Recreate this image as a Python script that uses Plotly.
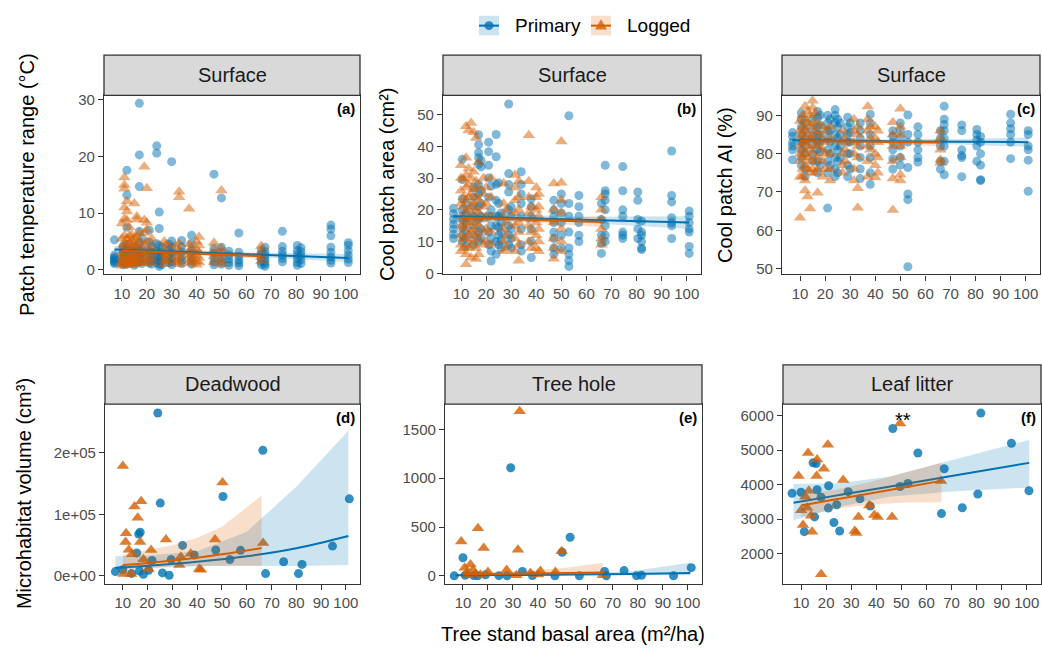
import plotly.graph_objects as go

W, H = 1042, 652
BLUE = "#0072B2"
ORANGE = "#D55E00"
FONT = "Liberation Sans, Arial, sans-serif"

# ---------------- data: top row (surface patches) ----------------
primary_sites_top = [7, 10.5, 12, 15, 17, 18, 21, 22, 24, 25, 26, 29, 30, 34, 38, 47, 50, 53, 57, 66, 67.5, 74.5, 80.5, 82, 94, 101]
logged_sites_top = [10, 11, 12, 13, 14, 15, 16, 17, 19, 20, 22, 27, 28, 31.5, 33, 37, 38, 40, 41, 47, 50, 66]

a_primary = [
    [5.3, 2.6, 2.2, 1.8, 1.5, 1.3, 2.0, 1.1], [3.0, 2.4, 1.9, 1.5, 1.2, 0.9, 4.2],
    [17.6, 13.2, 7.5, 4.5, 3.2, 2.5, 1.8, 1.4, 1.0], [4.0, 3.1, 2.3, 1.7, 1.3, 0.8],
    [29.4, 20.3, 14.7, 6.8, 4.8, 3.5, 2.6, 1.9, 1.4], [5.5, 3.8, 2.9, 2.0, 1.5, 1.1],
    [7.0, 4.9, 3.3, 2.5, 1.7, 1.2], [4.2, 3.1, 2.2, 1.6, 1.0],
    [21.9, 20.6, 4.6, 3.3, 2.4, 1.8, 1.3], [10.2, 7.3, 4.3, 3.0, 2.1, 1.5, 1.0, 0.6],
    [4.0, 3.0, 2.2, 1.6, 0.9], [4.5, 3.6, 2.7, 1.9, 1.3],
    [19.1, 5.1, 4.0, 3.0, 2.1, 1.4, 0.9], [5.2, 4.1, 3.2, 2.3, 1.7, 1.1],
    [6.1, 4.6, 3.3, 2.4, 1.6, 1.0], [16.9, 3.8, 2.9, 2.1, 1.4, 0.9],
    [12.7, 4.0, 3.1, 2.2, 1.5, 1.0], [3.3, 2.6, 1.9, 1.3, 0.8],
    [6.5, 3.1, 2.4, 1.7, 1.2, 0.7], [3.5, 2.8, 2.0, 1.4, 0.9],
    [4.0, 3.2, 2.6, 2.0, 1.5, 1.0, 0.6], [6.8, 4.1, 3.3, 2.6, 2.0, 1.4],
    [4.3, 3.4, 2.7, 2.0, 1.3, 0.8], [3.9, 3.2, 2.5, 1.8, 1.1],
    [7.9, 7.2, 6.0, 4.0, 3.1, 2.3, 1.7, 1.2], [4.8, 4.3, 3.4, 2.6, 1.9, 1.3],
]
a_logged = [
    [8.2, 5.5, 4.0, 3.0, 2.2, 1.5, 1.0, 0.7], [16.3, 15.0, 14.3, 11.0, 9.0, 6.0, 4.5, 3.5, 2.5, 1.8, 1.2],
    [12.1, 10.3, 8.8, 5.5, 4.2, 3.0, 2.1, 1.4, 0.9], [7.5, 6.0, 4.8, 3.6, 2.6, 1.8, 1.1],
    [6.2, 5.2, 4.4, 3.5, 2.8, 2.0, 1.4, 0.8], [11.7, 5.6, 4.6, 3.5, 2.5, 1.6, 1.0],
    [9.4, 8.9, 5.8, 4.3, 3.1, 2.2, 1.3], [6.5, 5.0, 3.8, 2.8, 1.9, 1.2],
    [18.2, 8.8, 6.5, 4.4, 3.0, 2.0, 1.2], [14.4, 8.3, 7.1, 5.0, 3.4, 2.3, 1.4],
    [5.5, 4.0, 2.9, 2.0, 1.2], [5.0, 3.7, 2.6, 1.7, 1.0],
    [4.5, 3.2, 2.3, 1.5], [4.2, 3.0, 2.1, 1.3],
    [13.8, 12.8, 4.6, 3.4, 2.5, 1.7, 1.0], [10.8, 4.5, 3.3, 2.3, 1.4],
    [3.8, 2.7, 1.9, 1.1], [5.0, 3.6, 2.5, 1.5, 0.9],
    [5.8, 4.3, 3.1, 2.1, 1.3], [4.8, 3.5, 2.4, 1.4],
    [14.0, 3.8, 2.7, 1.7, 1.0], [4.2, 3.1, 2.2, 1.5],
]
b_primary = [
    [20.5, 18.8, 17.0, 15.5, 14.0, 12.3, 11.0], [35.9, 29.5, 23.5, 20.0, 17.0, 14.5, 12.0, 10.0],
    [22.0, 19.0, 16.0, 13.5, 11.0, 8.5], [27.0, 24.0, 21.0, 18.0, 15.0, 12.0, 9.0],
    [43.6, 40.5, 38.0, 36.4, 34.3, 28.0, 25.0, 21.0, 17.0, 13.0, 10.0], [35.5, 33.5, 26.0, 22.0, 18.0, 14.0, 11.0],
    [41.3, 38.3, 34.0, 30.0, 24.0, 18.0, 13.0, 9.0], [27.5, 20.0, 15.0, 11.0, 7.0, 3.9],
    [43.7, 36.7, 28.0, 23.0, 18.0, 15.0, 10.0, 6.0], [28.5, 22.0, 18.0, 14.5, 12.0, 9.0],
    [19.0, 16.0, 13.0, 10.5, 8.0], [53.3, 31.4, 28.0, 25.6, 20.0, 15.0, 12.0, 9.0],
    [21.0, 18.0, 14.0, 11.0, 8.0], [32.0, 28.0, 25.0, 22.0, 18.0, 14.0, 9.0, 7.0],
    [23.5, 21.0, 18.0, 14.0, 10.0, 5.0], [23.0, 20.0, 18.0, 16.0, 13.0, 11.0, 8.0, 6.0],
    [25.0, 22.0, 19.0, 16.0, 12.0, 8.0], [49.6, 22.0, 18.0, 13.0, 8.0, 6.0, 4.0, 2.2],
    [24.5, 21.0, 18.0, 16.0, 12.0, 10.0], [22.0, 17.0, 12.0, 9.5, 6.3],
    [34.0, 26.0, 25.0, 23.0, 20.0, 15.0, 12.0, 10.0], [33.6, 26.0, 20.0, 18.0, 13.0, 12.0, 11.0],
    [25.6, 23.0, 17.0, 14.0, 11.0], [16.5, 13.0, 12.0, 10.0, 8.0, 7.5],
    [38.5, 24.5, 22.5, 17.5, 16.0, 15.0, 11.0], [19.6, 18.0, 16.0, 14.0, 13.0, 8.5, 6.3],
]
b_logged = [
    [34.0, 30.0, 26.0, 22.0, 18.0, 15.0, 12.0, 9.0, 7.0], [29.5, 24.0, 21.0, 17.0, 14.0, 11.0, 8.0],
    [46.3, 36.4, 31.0, 27.0, 23.0, 19.0, 15.0, 11.0, 6.0, 2.9], [45.0, 33.0, 28.0, 24.0, 20.0, 16.0, 12.0, 8.0],
    [47.3, 30.0, 25.0, 21.0, 17.0, 13.0, 9.0, 5.0], [44.4, 32.0, 26.5, 22.0, 18.0, 14.0, 10.0],
    [42.6, 29.0, 24.0, 20.0, 16.0, 12.0, 8.0, 4.5], [35.0, 27.0, 23.0, 19.0, 15.0, 11.0, 6.0],
    [30.0, 25.0, 21.0, 17.0, 13.0, 9.0], [27.0, 22.0, 18.0, 14.0, 10.0],
    [30.0, 24.0, 18.0, 13.0, 9.0], [28.3, 22.0, 18.0, 14.0, 10.0, 7.0],
    [20.0, 16.0, 12.0, 8.0], [31.0, 27.0, 23.0, 19.0, 15.0, 11.0, 7.0],
    [29.0, 24.0, 20.0, 16.0, 13.0, 9.0, 4.0], [43.5, 29.0, 24.0, 19.0, 15.0, 10.0],
    [21.0, 17.0, 13.0, 8.0], [27.0, 24.0, 20.0, 16.0, 12.0, 8.0],
    [25.0, 21.0, 18.0, 14.0, 10.0, 7.0], [28.3, 20.0, 16.0, 11.0, 8.0, 4.6],
    [41.5, 28.5, 23.0, 19.0, 14.0, 10.0, 7.0], [24.0, 20.0, 17.0, 14.0, 11.0, 9.0],
]
c_primary = [
    [85.5, 84.5, 83.0, 82.0, 81.0, 78.4], [90.6, 89.0, 87.0, 85.0, 83.0, 81.0, 79.0, 77.0],
    [88.0, 86.0, 84.0, 82.0, 80.0, 76.0, 74.0], [89.0, 86.5, 84.5, 82.5, 80.0, 78.0],
    [91.0, 89.5, 87.0, 85.0, 83.0, 81.0, 78.0, 75.0], [90.0, 87.5, 85.0, 83.0, 80.5, 77.0],
    [90.0, 88.0, 86.0, 84.0, 81.0, 78.0, 75.0, 65.8], [89.0, 86.0, 83.0, 80.0, 77.0],
    [91.5, 90.0, 88.0, 85.0, 82.0, 79.0, 76.0, 74.0], [89.0, 87.0, 84.0, 81.0, 78.0, 75.0],
    [88.0, 85.0, 82.0, 79.0], [89.5, 87.0, 85.0, 83.0, 80.0, 77.0, 74.0],
    [88.0, 85.5, 83.0, 80.0, 76.0], [88.0, 86.0, 84.0, 82.0, 79.0, 76.0, 73.5],
    [90.3, 88.0, 85.0, 82.0, 79.0, 75.0, 72.0], [86.0, 84.5, 83.0, 81.0, 78.7, 76.0],
    [88.0, 86.0, 84.0, 82.0, 79.0, 77.0], [90.1, 85.0, 83.0, 76.4, 69.5, 68.0, 50.5],
    [87.0, 85.0, 83.0, 81.0, 79.0, 77.8], [86.0, 84.0, 82.0, 78.0, 76.0],
    [92.4, 89.0, 87.6, 86.0, 84.0, 82.0, 78.0, 74.5], [87.5, 86.0, 81.0, 79.5, 79.0, 74.0],
    [86.3, 85.0, 83.6, 82.0, 78.0], [84.5, 83.0, 80.0, 77.0, 73.2, 73.0],
    [90.3, 88.0, 86.5, 85.0, 83.0, 78.7], [86.0, 85.0, 82.0, 81.0, 78.3, 70.2],
]
c_logged = [
    [88.5, 86.0, 84.0, 82.0, 80.0, 78.0, 74.0, 63.3], [90.0, 87.0, 85.0, 83.0, 81.0, 79.0, 76.0, 74.0],
    [92.4, 89.0, 86.0, 83.0, 80.0, 77.0, 73.0, 70.4], [91.0, 88.0, 85.0, 82.0, 79.0, 76.0, 68.8],
    [90.0, 87.0, 84.0, 81.0, 78.0, 75.0, 65.7], [93.8, 92.0, 88.0, 84.0, 80.0, 76.0],
    [90.5, 86.0, 82.0, 78.0, 75.0], [88.0, 85.0, 82.0, 79.0, 76.0, 69.8],
    [87.0, 84.0, 81.0, 78.0, 74.0], [86.0, 83.0, 80.0, 76.0],
    [87.0, 84.0, 80.0, 76.0, 73.0], [86.0, 83.0, 80.0, 77.0, 75.0],
    [84.0, 81.0, 78.0], [89.0, 86.0, 83.0, 80.0, 76.0, 73.0],
    [87.0, 85.0, 82.0, 79.0, 71.0, 65.9], [92.3, 89.0, 86.0, 82.0, 78.0, 74.0],
    [87.0, 84.0, 81.0], [87.0, 84.0, 80.0, 77.0, 73.8],
    [86.0, 83.0, 79.0, 75.0], [88.2, 85.0, 82.0, 78.0, 73.5, 65.3],
    [91.7, 87.0, 85.0, 82.0, 79.0, 74.5, 73.0], [86.0, 84.0, 81.0, 78.4, 77.6],
]

# ---------------- data: bottom row (microhabitat volume) ----------------
d_primary_x = [7, 10, 13.5, 15.6, 16.4, 17, 16.7, 18.3, 20.4, 21.8, 24.1, 25.1, 26, 28.7, 29.5, 34.1, 38.8, 47.5, 50.4, 53.2, 57.5, 66.5, 67.6, 74.9, 80.9, 82.3, 94.6, 101.4]
d_primary_y = [7000, 10000, 4000, 37400, 68000, 71000, 8000, 2700, 9000, 25100, 265000, 118400, 4800, 1000, 26500, 49600, 34000, 42200, 129100, 26500, 41600, 204300, 3700, 23000, 3700, 18700, 48500, 125400]
d_logged_x = [10, 10.3, 11.3, 11.1, 12.4, 13.3, 13.7, 14.7, 16, 17.4, 17, 18.3, 20.4, 21.4, 27.4, 32.8, 33.4, 37.4, 40.8, 41.5, 47.2, 50.2, 66.6]
d_logged_y = [178700, 3000, 69400, 55000, 42700, 3000, 35000, 113100, 94600, 121500, 55000, 27000, 11000, 42100, 59000, 17800, 31100, 35800, 11000, 10000, 59000, 152000, 53400]

e_primary_x = [6.5, 10, 10.9, 14.3, 15.9, 19, 24.4, 27.7, 29.1, 33.8, 37.8, 46.8, 49.7, 52.9, 56.6, 66.7, 67.4, 74.5, 79.5, 81.5, 94.3, 101.4]
e_primary_y = [0, 185, 5, 3, 0, 10, 2, 0, 1107, 44, 3, 0, 242, 396, 0, 44, 0, 54, 2, 5, 0, 84]
e_logged_x = [9.3, 10.7, 11.5, 12, 13, 14, 15, 16, 17, 18.3, 20, 27.5, 31.4, 32, 32.7, 37, 40, 41, 47, 49.5, 66]
e_logged_y = [352, 84, 30, 5, 117, 60, 20, 487, 10, 285, 40, 60, 5, 268, 1685, 30, 15, 50, 40, 252, 5]

f_primary_x = [6.4, 10, 11.3, 14.8, 15.4, 16, 16.4, 18, 21, 20.9, 23.1, 24.2, 25.4, 28.8, 33.5, 37.6, 46.6, 49.5, 52.6, 56.6, 66, 67.1, 74.3, 80.5, 81.7, 93.9, 100.9]
f_primary_y = [3747, 3780, 2635, 4630, 3063, 4610, 3852, 3632, 3966, 3319, 2902, 3416, 2655, 3795, 3587, 3376, 5627, 3946, 4031, 4915, 3159, 4459, 3330, 3729, 6074, 5200, 3823]
f_logged_x = [9, 10, 10.8, 11.7, 12.4, 12.8, 13.1, 14, 14.4, 16.2, 16.4, 18, 19.1, 20.7, 26.8, 31.4, 32, 32.9, 37.2, 39.2, 40.6, 46.3, 49.5, 65.8]
f_logged_y = [4251, 3254, 2826, 3650, 3330, 4915, 3823, 3100, 2635, 4251, 4726, 1402, 4459, 5154, 4137, 2655, 2600, 3063, 3396, 3120, 3063, 3063, 5769, 4108]

# ---------------- fitted lines and confidence bands ----------------
a_fit_p_x = [7, 54, 101];  a_fit_p = [3.6, 2.85, 2.1];  a_lo_p = [3.0, 2.55, 1.4];  a_hi_p = [4.2, 3.15, 2.8]
a_fit_l_x = [10, 38, 66];  a_fit_l = [3.4, 2.9, 2.4];   a_lo_l = [2.9, 2.6, 1.9];  a_hi_l = [3.9, 3.2, 2.9]
b_fit_p_x = [7, 54, 101];  b_fit_p = [18.0, 17.0, 16.0]; b_lo_p = [16.5, 16.2, 14.0]; b_hi_p = [19.5, 17.8, 18.0]
b_fit_l_x = [10, 38, 66];  b_fit_l = [17.5, 16.9, 16.2]; b_lo_l = [16.5, 16.2, 14.5]; b_hi_l = [18.5, 17.6, 17.9]
c_fit_p_x = [7, 54, 101];  c_fit_p = [83.5, 83.2, 83.0]; c_lo_p = [82.7, 82.8, 81.8]; c_hi_p = [84.3, 83.6, 84.2]
c_fit_l_x = [10, 38, 66];  c_fit_l = [83.3, 83.1, 82.9]; c_lo_l = [82.7, 82.7, 81.9]; c_hi_l = [83.9, 83.5, 83.9]
d_fit_p_x = [7, 20, 40, 60, 80, 101]
d_fit_p = [13400, 16500, 23000, 32000, 45000, 65000]
d_lo_p = [10700, 12500, 15500, 16500, 16000, 17600]
d_hi_p = [32000, 33000, 40000, 72000, 145000, 236000]
d_fit_l_x = [10, 20, 30, 40, 50, 66]
d_fit_l = [17600, 21000, 25000, 29500, 35000, 45400]
d_lo_l = [10700, 13000, 15500, 16500, 16500, 16000]
d_hi_l = [34700, 42000, 50000, 62000, 80000, 130700]
e_fit_p_x = [7, 30, 54, 78, 101]; e_fit_p = [6, 9, 14, 20, 30]; e_lo_p = [0, 2, 6, 8, 7]; e_hi_p = [15, 18, 25, 50, 135]
e_fit_l_x = [10, 24, 38, 52, 66]; e_fit_l = [15, 19, 24, 29, 35]; e_lo_l = [5, 9, 10, 6, 2]; e_hi_l = [40, 40, 55, 85, 135]
f_fit_p_x = [7, 25, 45, 70, 101]; f_fit_p = [3473, 3695, 3941, 4249, 4630]
f_lo_p = [2969, 3350, 3650, 3800, 3917]; f_hi_p = [4014, 4040, 4230, 4700, 5296]
f_fit_l_x = [10, 24, 38, 52, 66]; f_fit_l = [3396, 3575, 3750, 3930, 4108]
f_lo_l = [3063, 3300, 3420, 3480, 3490]; f_hi_l = [3729, 3850, 4080, 4350, 4630]

x_ticks = [10, 20, 30, 40, 50, 60, 70, 80, 90, 100]
strip_labels = ["Surface", "Surface", "Surface", "Deadwood", "Tree hole", "Leaf litter"]
panel_tags = ["(a)", "(b)", "(c)", "(d)", "(e)", "(f)"]
y_titles = ["Patch temperature range (°C)", "Cool patch area (cm²)", "Cool patch AI (%)", "Microhabitat volume (cm³)"]
x_title = "Tree stand basal area (m²/ha)"
legend_names = ["Primary", "Logged"]


def flatten(sites, groups):
    xs, ys = [], []
    for s, g in zip(sites, groups):
        xs += [s] * len(g)
        ys += list(g)
    return xs, ys


# ---------------- layout geometry (pixels) ----------------
cols_top = [(104, 360), (443, 701), (782, 1040)]
cols_bot = [(105, 360), (445, 702), (783, 1041)]
row_top = (93, 275, 52)   # plot top, plot bottom, strip top
row_bot = (407, 590, 367)

y_ranges = [[-0.8, 30.8], [-0.3, 56], [48.5, 95.2], [-13300, 279500], [-84, 1759], [1117, 6333]]
y_tickvals = [[0, 10, 20, 30], [0, 10, 20, 30, 40, 50], [50, 60, 70, 80, 90],
              [0, 100000, 200000], [0, 500, 1000, 1500], [2000, 3000, 4000, 5000, 6000]]
y_ticktext = [None, None, None, ["0e+00", "1e+05", "2e+05"], None, None]

panels = []
top_data = [(a_primary, a_logged), (b_primary, b_logged), (c_primary, c_logged)]
for i, (pp, ll) in enumerate(top_data):
    px, py = flatten(primary_sites_top, pp)
    lx, ly = flatten(logged_sites_top, ll)
    panels.append(dict(px=px, py=py, lx=lx, ly=ly, alpha=0.5, col=cols_top[i], row=row_top))
bot_data = [(d_primary_x, d_primary_y, d_logged_x, d_logged_y),
            (e_primary_x, e_primary_y, e_logged_x, e_logged_y),
            (f_primary_x, f_primary_y, f_logged_x, f_logged_y)]
for i, (px, py, lx, ly) in enumerate(bot_data):
    panels.append(dict(px=px, py=py, lx=lx, ly=ly, alpha=0.8, col=cols_bot[i], row=row_bot))

fits = [
    ((a_fit_p_x, a_fit_p, a_lo_p, a_hi_p), (a_fit_l_x, a_fit_l, a_lo_l, a_hi_l)),
    ((b_fit_p_x, b_fit_p, b_lo_p, b_hi_p), (b_fit_l_x, b_fit_l, b_lo_l, b_hi_l)),
    ((c_fit_p_x, c_fit_p, c_lo_p, c_hi_p), (c_fit_l_x, c_fit_l, c_lo_l, c_hi_l)),
    ((d_fit_p_x, d_fit_p, d_lo_p, d_hi_p), (d_fit_l_x, d_fit_l, d_lo_l, d_hi_l)),
    ((e_fit_p_x, e_fit_p, e_lo_p, e_hi_p), (e_fit_l_x, e_fit_l, e_lo_l, e_hi_l)),
    ((f_fit_p_x, f_fit_p, f_lo_p, f_hi_p), (f_fit_l_x, f_fit_l, f_lo_l, f_hi_l)),
]


def rgba(hexc, a):
    h = hexc.lstrip("#")
    r, g, b = int(h[0:2], 16), int(h[2:4], 16), int(h[4:6], 16)
    return f"rgba({r},{g},{b},{a})"


fig = go.Figure()
layout = dict(
    width=W, height=H, margin=dict(l=0, r=0, t=0, b=0),
    paper_bgcolor="white", plot_bgcolor="white",
    font=dict(family=FONT, color="black"),
    showlegend=False,
)
shapes, annotations = [], []

for i, p in enumerate(panels):
    n = "" if i == 0 else str(i + 1)
    xa, ya = "x" + n, "y" + n
    x0, x1 = p["col"]
    ptop, pbot, stop = p["row"]
    layout["xaxis" + n] = dict(
        domain=[x0 / W, x1 / W], anchor=ya, range=[2.8, 105.7],
        tickvals=x_ticks, ticks="outside", ticklen=5, tickwidth=1.2, tickcolor="#333333",
        tickfont=dict(size=15, color="#4D4D4D", family=FONT),
        showline=True, linecolor="#333333", linewidth=1.3, mirror=True,
        showgrid=False, zeroline=False, fixedrange=True)
    layout["yaxis" + n] = dict(
        domain=[1 - pbot / H, 1 - ptop / H], anchor=xa, range=y_ranges[i],
        tickvals=y_tickvals[i], ticktext=y_ticktext[i],
        ticks="outside", ticklen=5, tickwidth=1.2, tickcolor="#333333",
        tickfont=dict(size=15, color="#4D4D4D", family=FONT),
        showline=True, linecolor="#333333", linewidth=1.3, mirror=True,
        showgrid=False, zeroline=False, fixedrange=True)

    fig.add_trace(go.Scatter(x=p["px"], y=p["py"], mode="markers", xaxis=xa, yaxis=ya, name=legend_names[0],
                             marker=dict(size=9, line=dict(width=0), symbol="circle",
                                         color=rgba(BLUE, p["alpha"]))))
    fig.add_trace(go.Scatter(x=p["lx"], y=p["ly"], mode="markers", xaxis=xa, yaxis=ya, name=legend_names[1],
                             marker=dict(size=11, line=dict(width=0), symbol="triangle-up",
                                         color=rgba(ORANGE, p["alpha"]))))
    for (fx, fy, flo, fhi), colr, nm in zip(fits[i], [BLUE, ORANGE], legend_names):
        fig.add_trace(go.Scatter(x=list(fx) + list(fx)[::-1], y=list(fhi) + list(flo)[::-1],
                                 mode="lines", fill="toself", fillcolor=rgba(colr, 0.2),
                                 line=dict(width=0), xaxis=xa, yaxis=ya, name=nm,
                                 hoverinfo="skip"))
        fig.add_trace(go.Scatter(x=fx, y=fy, mode="lines", line=dict(color=colr, width=2, shape="spline"),
                                 xaxis=xa, yaxis=ya, name=nm))

    # strip
    shapes.append(dict(type="rect", xref="paper", yref="paper", x0=x0 / W, x1=x1 / W,
                       y0=1 - ptop / H, y1=1 - stop / H, fillcolor="#D9D9D9",
                       line=dict(color="#333333", width=1.3), layer="above"))
    annotations.append(dict(xref="paper", yref="paper", x=(x0 + x1) / 2 / W, y=1 - (ptop + stop) / 2 / H,
                            text=strip_labels[i], showarrow=False, xanchor="center", yanchor="middle",
                            font=dict(size=20, color="#1A1A1A")))
    # tag
    annotations.append(dict(xref=xa + " domain", yref=ya + " domain", x=1, y=1, xshift=-3, yshift=-3,
                            xanchor="right", yanchor="top", text="<b>" + panel_tags[i] + "</b>",
                            showarrow=False, font=dict(size=15, color="black")))

# significance stars in leaf litter panel
annotations.append(dict(xref="x6", yref="y6", x=50.7, y=5870, text="**", showarrow=False,
                        xanchor="center", yanchor="middle", font=dict(size=20, color="black")))

# axis titles
ytitle_pos = [(27, row_top), (387, row_top), (725, row_top), (24, row_bot)]
for t, (xp, r) in zip(y_titles, ytitle_pos):
    annotations.append(dict(xref="paper", yref="paper", x=xp / W, y=1 - (r[0] + r[1]) / 2 / H, text=t,
                            textangle=-90, showarrow=False, xanchor="center", yanchor="middle",
                            font=dict(size=20, color="black")))
annotations.append(dict(xref="paper", yref="paper", x=573 / W, y=1 - 641 / H, text=x_title,
                        showarrow=False, xanchor="center", yanchor="middle", font=dict(size=20, color="black")))

# ---------------- legend (drawn as decoration at the top) ----------------
key_centers = [489, 601]   # pixel x of key boxes
key_y = 22
for kx, colr, nm, sym in zip(key_centers, [BLUE, ORANGE], legend_names, ["circle", "triangle"]):
    shapes.append(dict(type="rect", xref="paper", yref="paper", x0=(kx - 10) / W, x1=(kx + 10) / W,
                       y0=1 - (key_y + 10) / H, y1=1 - (key_y - 10) / H,
                       fillcolor=rgba(colr, 0.2), line=dict(width=0), layer="above"))
    shapes.append(dict(type="line", xref="paper", yref="paper", x0=(kx - 10) / W, x1=(kx + 10) / W,
                       y0=1 - key_y / H, y1=1 - key_y / H, line=dict(color=colr, width=2), layer="above"))
    if sym == "circle":
        shapes.append(dict(type="circle", xref="paper", yref="paper", x0=(kx - 4.5) / W, x1=(kx + 4.5) / W,
                           y0=1 - (key_y + 4.5) / H, y1=1 - (key_y - 4.5) / H,
                           fillcolor=rgba(colr, 0.8), line=dict(width=0), layer="above"))
    else:
        pts = [(kx - 6, key_y + 4), (kx + 6, key_y + 4), (kx, key_y - 6.5)]
        path = "M " + " L ".join(f"{px / W},{1 - py / H}" for px, py in pts) + " Z"
        shapes.append(dict(type="path", xref="paper", yref="paper", path=path,
                           fillcolor=rgba(colr, 0.8), line=dict(width=0), layer="above"))
    annotations.append(dict(xref="paper", yref="paper", x=(kx + 24) / W, y=1 - key_y / H, text=nm,
                            showarrow=False, xanchor="left", yanchor="middle",
                            font=dict(size=19, color="black")))

layout["shapes"] = shapes
layout["annotations"] = annotations
fig.update_layout(**layout)
fig.write_html("out.html")
